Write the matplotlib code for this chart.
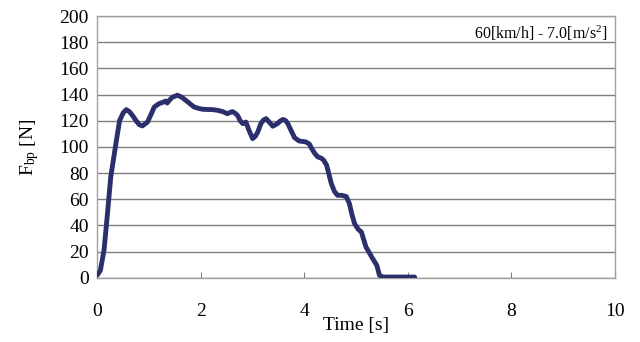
import numpy as np
import matplotlib
matplotlib.use('Agg')
import matplotlib.pyplot as plt

plt.rcParams['font.family'] = ['Liberation Serif', 'DejaVu Serif']
plt.rcParams['mathtext.fontset'] = 'custom'
plt.rcParams['mathtext.rm'] = 'Liberation Serif'
plt.rcParams['mathtext.it'] = 'Liberation Serif:italic'

# braking force trace
time_s = [0.0, 0.06, 0.13, 0.19, 0.26, 0.35, 0.43, 0.50, 0.56, 0.62, 0.68, 0.75, 0.81,
          0.87, 0.97, 1.04, 1.10, 1.19, 1.26, 1.32, 1.35, 1.40, 1.45, 1.55, 1.63,
          1.71, 1.79, 1.87, 1.95, 2.03, 2.12, 2.22, 2.32, 2.42, 2.51, 2.61, 2.67,
          2.71, 2.76, 2.81, 2.87, 2.93, 3.00, 3.05, 3.10, 3.16, 3.21, 3.26, 3.32,
          3.39, 3.48, 3.54, 3.59, 3.64, 3.68, 3.75, 3.81, 3.90, 4.03, 4.10, 4.13,
          4.20, 4.26, 4.32, 4.37, 4.43, 4.52, 4.58, 4.64, 4.72, 4.81, 4.87, 4.92,
          4.97, 5.04, 5.10, 5.19, 5.27, 5.32, 5.40, 5.45, 5.52, 5.80, 6.13]
force_n = [2, 5.6, 21, 46, 77, 100, 120, 126, 128.5, 127, 124, 120, 117,
           116, 119, 125, 130.5, 133, 134, 135, 133.5, 136, 138, 139.5, 138,
           135.6, 133, 130.5, 129.5, 128.8, 128.6, 128.5, 128, 127, 125.4, 127, 125.5,
           124, 120, 117.8, 119, 112.7, 106.3, 108, 111.4, 117.8, 120.5, 121.6, 119,
           115.8, 117.8, 120, 121, 120, 117.8, 112, 107, 104.5, 103.8, 102, 99.5,
           95, 92.3, 91.5, 90, 86, 72, 66, 63, 63, 62, 56.6, 48,
           41.3, 37, 35, 23.4, 18, 14.5, 9.4, 1.8, 0.5, 0.5, 0.5]

fig = plt.figure(figsize=(6.4, 3.42), dpi=100)
ax = fig.add_axes([0.152, 0.188, 0.809, 0.765])

ax.plot(time_s, force_n, color='#2b2f6b', lw=3.5, solid_capstyle='round', zorder=3)

ax.set_xlim(0, 10)
ax.set_ylim(0, 200)
ax.set_xticks(np.arange(0, 11, 2))
ax.set_yticks(np.arange(0, 201, 20))
ax.yaxis.grid(True, color='#7f7f7f', lw=1.0)
ax.set_axisbelow(True)

for side in ['left', 'bottom', 'right', 'top']:
    ax.spines[side].set_color('#a0a0a0')
    ax.spines[side].set_linewidth(1.0)

ax.tick_params(axis='x', direction='in', length=4, color='#808080', pad=18, labelsize=14)
ax.tick_params(axis='y', direction='out', length=0, color='#808080', pad=6, labelsize=14)

ax.set_xlabel('Time [s]', fontsize=14, labelpad=-2)
ax.set_ylabel(r'$\mathrm{F_{bp}}$ [N]', fontsize=14, labelpad=13)

ax.text(0.985, 0.935, r'60[km/h] - 7.0[m/s$^2$]', transform=ax.transAxes,
        ha='right', va='center', fontsize=11.5)

fig.savefig('out.png', dpi=100)
